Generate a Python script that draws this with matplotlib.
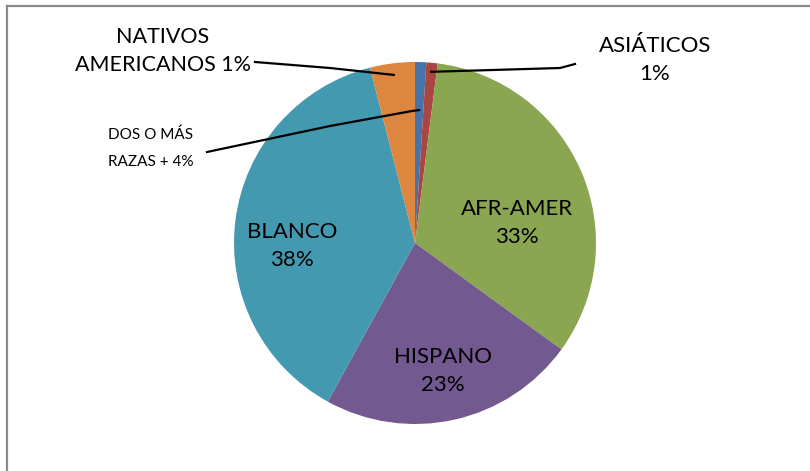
import matplotlib
matplotlib.use('Agg')
import matplotlib.pyplot as plt
import numpy as np
from matplotlib.lines import Line2D

# ------------------------
# Data
# ------------------------
groups = ['DOS O MÁS RAZAS', 'ASIÁTICOS', 'AFR-AMER', 'HISPANO', 'BLANCO', 'NATIVOS AMERICANOS']
shares = [1, 1, 33, 23, 38, 4]
colors = ['#4673A8', '#A94543', '#8BA651', '#72598F', '#4399B0', '#DD863F']

# ------------------------
# Style
# ------------------------
plt.rcParams['font.family'] = ['Lato', 'DejaVu Sans']

W, H = 810, 471
fig = plt.figure(figsize=(W / 100, H / 100), dpi=100)
fig.patch.set_facecolor('white')
ax = fig.add_axes([0, 0, 1, 1])

# pixel-like coordinates, y measured from bottom
cx, cy, r = 415, H - 243, 181

wedges, _ = ax.pie(
    shares,
    colors=colors,
    startangle=90,
    counterclock=False,
    center=(cx, cy),
    radius=r,
    wedgeprops=dict(linewidth=0),
)
ax.set_xlim(0, W)
ax.set_ylim(0, H)
ax.set_aspect('equal')
ax.axis('off')


def y(py):
    return H - py


def inside(w, frac):
    # point inside a wedge along its middle angle
    a = np.deg2rad((w.theta1 + w.theta2) / 2)
    return cx + frac * r * np.cos(a), cy + frac * r * np.sin(a)


# ------------------------
# Labels inside slices
# ------------------------
big = 16
ax.text(517, y(223), 'AFR-AMER\n33%', ha='center', va='center', fontsize=big, linespacing=1.5)
ax.text(443, y(371), 'HISPANO\n23%', ha='center', va='center', fontsize=big, linespacing=1.5)
ax.text(292, y(246), 'BLANCO\n38%', ha='center', va='center', fontsize=big, linespacing=1.5)

# ------------------------
# Outside labels with leader lines
# ------------------------
ax.text(163, y(51), 'NATIVOS\nAMERICANOS 1%', ha='center', va='center', fontsize=15.5, linespacing=1.55)
ax.text(655, y(60), 'ASIÁTICOS\n1%', ha='center', va='center', fontsize=16, linespacing=1.5)
ax.text(151, y(148), 'DOS O MÁS\nRAZAS + 4%', ha='center', va='center', fontsize=11, linespacing=2.15)

ex, ey = inside(wedges[5], 0.936)
ax.plot([255, 330, ex], [y(62), y(68), ey], color='black', lw=1.6)

ex, ey = inside(wedges[1], 0.95)
ax.plot([ex, 560, 575], [ey, y(68), y(64)], color='black', lw=1.6)

ex, ey = inside(wedges[0], 0.735)
ax.plot([207, 330, 412, ex], [y(152), y(126), y(111), ey], color='black', lw=1.6)

# ------------------------
# Chart frame (top and left edges visible)
# ------------------------
fig.add_artist(Line2D([7 / W, 1], [1 - 6 / H, 1 - 6 / H], color='#8a8a8a', lw=1.6))
fig.add_artist(Line2D([7 / W, 7 / W], [0, 1 - 6 / H], color='#8a8a8a', lw=1.6))

fig.savefig('out.png', dpi=100, facecolor='white')
